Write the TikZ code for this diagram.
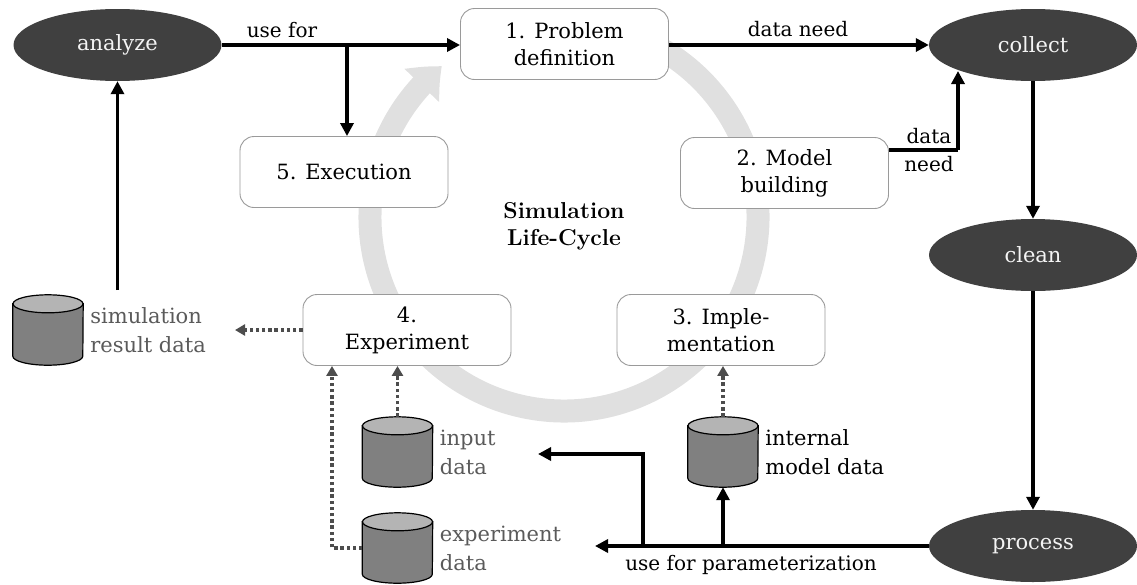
\documentclass[tikz,border=0pt]{standalone}
\usepackage{fontspec}
\setmainfont{DejaVu Serif}
\newfontfamily\lmrfont{Latin Modern Roman}
\usetikzlibrary{arrows.meta,shapes.geometric,bending}
\definecolor{ellfill}{HTML}{404040}
\definecolor{elltext}{HTML}{F4F4F4}
\definecolor{boxline}{HTML}{9A9A9A}
\definecolor{ringgray}{HTML}{E0E0E0}
\definecolor{cylbody}{HTML}{808080}
\definecolor{cyltop}{HTML}{B4B4B4}
\definecolor{dotgray}{HTML}{4D4D4D}
\definecolor{labgray}{HTML}{5A5A5A}
\tikzset{
  ellnode/.style={ellipse, fill=ellfill, text=elltext, minimum width=208pt, minimum height=72pt, inner sep=0pt, font=\fontsize{21}{27}\selectfont},
  stagebox/.style={rectangle, rounded corners=14pt, draw=boxline, fill=white, line width=0.9pt, minimum width=208pt, minimum height=71pt, inner sep=2pt, align=center, font=\fontsize{21}{27}\selectfont},
  cylnode/.style={rectangle, minimum width=70pt, minimum height=70pt, inner sep=0pt},
  cylbodystyle/.style={fill=cylbody, draw=black, line width=1.2pt},
  cyltopstyle/.style={fill=cyltop, draw=black, line width=1.2pt},
  cyllab/.style={anchor=west, align=left, inner sep=2pt, text=labgray, font=\fontsize{21}{29}\selectfont},
  lab/.style={inner sep=1pt, font=\fontsize{20}{27}\selectfont},
  arr/.style={line width=3.4pt, -{Triangle[length=13pt,width=13pt]}},
  plainline/.style={line width=3.4pt},
  dotarr/.style={draw=dotgray, line width=3.4pt, dash pattern=on 3.4pt off 2.8pt, -{Triangle[length=10pt,width=11pt]}},
}
\newcommand\mkcyl[3]{%
  \node[cylnode] (#1) at (#2,#3) {};
  \path[cylbodystyle] ([yshift=-9pt]#1.north west) -- ([yshift=9pt]#1.south west)
     arc[start angle=180, end angle=360, x radius=35pt, y radius=9pt]
     -- ([yshift=-9pt]#1.north east) -- cycle;
  \path[cyltopstyle] ([yshift=-9pt]#1.north) ellipse[x radius=35pt, y radius=9pt];
}
\begin{document}
\begin{tikzpicture}[x=1pt,y=-1pt]
\useasboundingbox (0,0) rectangle (1137,584);
% life-cycle ring
\coordinate (cc) at (564,217);
\draw[ringgray, line width=23pt, -{Triangle[length=28pt,width=46pt,bend]}]
  (cc) ++(-80:194) arc[start angle=-80, end angle=231, radius=194];
\node[font=\lmrfont\bfseries\fontsize{23}{27}\selectfont, align=center] (slc) at (564,226) {Simulation\\Life-Cycle};
% stage boxes
\node[stagebox] (b1) at (564.5,44) {1. Problem\\definition};
\node[stagebox] (b2) at (784.5,173) {2. Model\\building};
\node[stagebox] (b3) at (721,330) {3. Imple-\\mentation};
\node[stagebox] (b4) at (407,330) {4.\\Experiment};
\node[stagebox] (b5) at (344,172) {5. Execution};
% ellipses
\node[ellnode] (analyze) at (117.5,45) {analyze};
\node[ellnode] (collect) at (1033,45) {collect};
\node[ellnode] (clean) at (1033,255) {clean};
\node[ellnode] (process) at (1033,546) {process};
% cylinders
\mkcyl{srd}{48}{330}
\node[cyllab] (srdl) at ([xshift=5pt]srd.east) {simulation\\result data};
\mkcyl{ind}{397.5}{452}
\node[cyllab] (indl) at ([xshift=5pt]ind.east) {input\\data};
\mkcyl{exd}{397.5}{548}
\node[cyllab] (exdl) at ([xshift=5pt]exd.east) {experiment\\data};
\mkcyl{imd}{723}{452}
\node[cyllab, text=black] (imdl) at ([xshift=5pt]imd.east) {internal\\model data};
% helper coordinates
\coordinate (brA) at (347,45);
\coordinate (c2) at (958,150);
\coordinate (ctip) at (958,71);
\coordinate (sr0) at (117.5,290);
\coordinate (srend) at (235,330);
\coordinate (pend) at (595,546);
\coordinate (br1) at (643,546);
\coordinate (br1t) at (643,454);
\coordinate (inend) at (538,454);
\coordinate (br2) at (723,546);
\coordinate (exL) at (332,548);
% top connectors
\draw[arr] (analyze.east) -- (analyze.east -| b1.west);
\draw[arr] (brA) -- (brA |- b5.north);
\node[lab] (l1) at (282,30) {use for};
\draw[arr] (b1.east |- collect) -- (collect.west);
\node[lab] (l2) at (798,29) {data need};
\draw[plainline] (b2.east |- c2) -- (c2);
\draw[arr] (c2) -- (ctip);
\node[lab] (l3) at (929,136) {data};
\node[lab] (l4) at (929,164) {need};
\draw[arr] (collect) -- (clean);
\draw[arr] (clean) -- (process);
\draw[arr] (sr0) -- (analyze.south);
% bottom connectors
\draw[arr] (process.west) -- (pend);
\node[lab] (l5) at (751,565) {use for parameterization};
\draw[arr] (br1) -- (br1t) -- (inend);
\draw[arr] (br2) -- (imd.south);
% dotted connectors
\draw[dotarr] (b4.west) -- (srend);
\draw[dotarr] (ind.north) -- (ind.north |- b4.south);
\draw[dotarr] (exd.west) -- (exL) -- (exL |- b4.south);
\draw[dotarr] (imd.north) -- (imd.north |- b3.south);
\end{tikzpicture}
\end{document}
